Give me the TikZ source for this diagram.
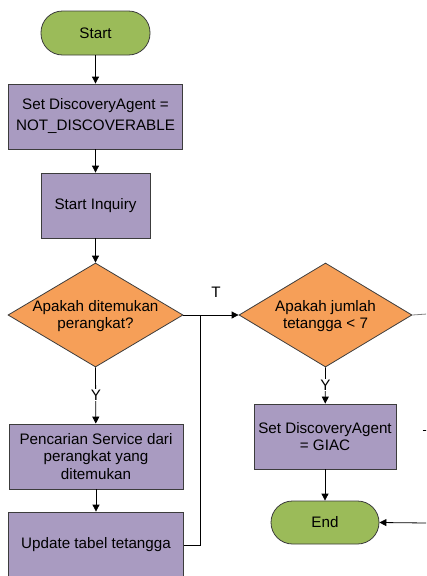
\documentclass[tikz,border=0pt]{standalone}
\usepackage{fontspec}
\setmainfont{Liberation Sans}
\usetikzlibrary{shapes.geometric,arrows.meta}
\definecolor{termgreen}{RGB}{155,187,89}
\definecolor{procpurple}{RGB}{169,155,193}
\definecolor{decorange}{RGB}{246,159,88}
\definecolor{edgegray}{RGB}{60,60,60}
\tikzset{
  basefont/.style={font=\fontsize{15.2}{17.5}\selectfont},
  term/.style={basefont, draw=edgegray, line width=0.8pt, fill=termgreen, rectangle, rounded corners=21.5pt, minimum width=109pt, minimum height=44pt, inner sep=0pt},
  proc/.style={basefont, draw=edgegray, line width=0.8pt, fill=procpurple, rectangle, inner sep=0pt, align=center},
  dec/.style={draw=edgegray, line width=0.8pt, fill=decorange, diamond, inner sep=0pt},
  txt/.style={basefont, align=center, inner sep=0pt},
  lbl/.style={basefont, inner sep=1pt, fill=white},
  conn/.style={line width=0.8pt, draw=black},
  arr/.style={conn, -{Triangle[length=7pt,width=7pt]}},
}
\begin{document}
\begin{tikzpicture}[x=1pt,y=-1pt]
\useasboundingbox (0,0) rectangle (426,576);
\clip (0,0) rectangle (426,576);
% nodes
\node[term] (start) at (95.5,33) {Start};
\node[proc, minimum width=174pt, minimum height=65pt, font=\fontsize{15.2}{21}\selectfont] (b1) at (95.5,116.5) {Set DiscoveryAgent =\\NOT\_DISCOVERABLE};
\node[proc, minimum width=109pt, minimum height=65pt] (b2) at (95.5,205.5) {\raisebox{-2pt}{Start Inquiry}};
\node[dec, minimum width=175pt, minimum height=104pt] (d1) at (95.5,315) {};
\node[txt] (d1t) at (95.5,316) {Apakah ditemukan\\perangkat?};
\node[proc, minimum width=174pt, minimum height=65pt] (b3) at (96,456.5) {Pencarian Service dari\\perangkat yang\\ditemukan};
\node[proc, minimum width=175pt, minimum height=66pt] (b4) at (96,545) {Update tabel tetangga};
\node[dec, minimum width=173pt, minimum height=104pt] (d2) at (325.5,315) {};
\node[txt] (d2t) at (325.5,316) {Apakah jumlah\\tetangga < 7};
\node[proc, minimum width=142pt, minimum height=65pt] (b5) at (325,436.5) {Set DiscoveryAgent\\= GIAC};
\node[term, minimum width=108pt, minimum height=43pt] (end) at (325,522.5) {End};
% coordinates
\coordinate (J) at (200,315);
\coordinate (K) at (200,545);
\coordinate (R1) at (427,314);
\coordinate (R2) at (427,523);
\coordinate (TL) at (422.5,430);
\coordinate (TR) at (427,430);
% connectors
\draw[arr] (start) -- (b1);
\draw[arr] (b1) -- (b2);
\draw[arr] (b2) -- (d1.north);
\draw[arr] (d1.south) -- (b3);
\node[lbl] (y1) at (96,395) {Y};
\draw[arr] (b3) -- (b4);
\draw[conn] (b4.east |- K) -- (K) -- (J);
\draw[arr] (d1.east) -- (d2.west);
\node[txt] (t1) at (216,292) {T};
\draw[arr] (d2.south) -- (b5);
\node[lbl] (y2) at (325.5,385) {Y};
\draw[arr] (b5) -- (end);
\draw[arr] (R2) -- (end.east);
\draw[conn, draw=gray] (d2.east) -- (R1);
\draw[conn] (TL) -- (TR);
\end{tikzpicture}
\end{document}
